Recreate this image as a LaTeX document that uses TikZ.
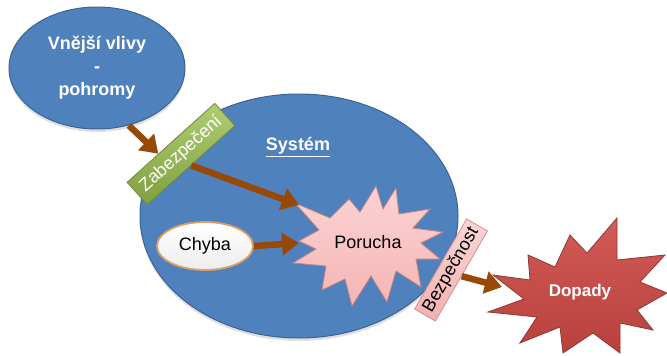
\documentclass[tikz,border=0pt]{standalone}
\usepackage{fontspec}
\setmainfont{Liberation Sans}
\usetikzlibrary{arrows.meta,shapes.geometric,shadows,calc}

\definecolor{sysblue}{HTML}{4F81BD}
\definecolor{sysedge}{HTML}{3A6395}
\definecolor{flow}{HTML}{984807}
\definecolor{guardtop}{HTML}{B0CD72}
\definecolor{guardbot}{HTML}{7FA03F}
\definecolor{guardedge}{HTML}{71893F}
\definecolor{faulttop}{HTML}{FBD3D3}
\definecolor{faultbot}{HTML}{F4B5B5}
\definecolor{faultedge}{HTML}{C7807F}
\definecolor{safetop}{HTML}{FAD6D6}
\definecolor{safebot}{HTML}{F1B0B0}
\definecolor{safeedge}{HTML}{D48F8E}
\definecolor{impacttop}{HTML}{D25A57}
\definecolor{impactbot}{HTML}{B8403D}
\definecolor{impactedge}{HTML}{8C3836}
\definecolor{erroredge}{HTML}{DE9F63}

\tikzset{
  bubble/.style={ellipse, fill=sysblue, draw=sysedge, line width=1pt,
    text=white, align=center, inner sep=0pt,
    font=\bfseries\fontsize{18}{23}\selectfont,
    drop shadow={opacity=0.25, shadow xshift=0pt, shadow yshift=-3pt}},
  tagbox/.style={rectangle, inner sep=0pt, line width=0.8pt,
    font=\fontsize{18}{20}\selectfont},
  spiky/.style={line width=0.8pt, line join=miter},
  plain/.style={font=\fontsize{18}{20}\selectfont, inner sep=0pt},
  flowarrow/.style={draw=flow, line width=6.5pt,
    -{Triangle[length=17pt,width=22pt]}},
}

\begin{document}
\begin{tikzpicture}[x=1pt, y=-1pt]
\useasboundingbox (0,0) rectangle (667,356);

% the system and the outside influences
\node[bubble, minimum width=318, minimum height=244] (system) at (299,216) {};
\node[text=white, font=\bfseries\fontsize{18}{20}\selectfont, inner sep=0pt]
  (syslabel) at (298,147) {\underline{Systém}};
\node[bubble, minimum width=176, minimum height=122] (vlivy) at (97,68)
  {Vnější vlivy\\-\\pohromy};

% the fault, drawn as an irregular burst
\path[spiky, draw=faultedge, top color=faulttop, bottom color=faultbot]
  (295,203) -- (330,218) -- (349,199) -- (360,212) -- (376,186) -- (383,209)
  -- (396,188) -- (399,214) -- (430,209) -- (413,228) -- (443,232)
  -- (421,243) -- (440,259) -- (416,259) -- (421,287) -- (396,271)
  -- (387,302) -- (371,276) -- (352,306) -- (345,279) -- (322,290)
  -- (326,266) -- (293,263) -- (316,249) -- (299,241) -- (319,230) -- cycle;
\node[plain] (porucha) at (368,242) {Porucha};
\coordinate (porTL) at (299,205);
\coordinate (porL) at (299,243);

% the error
\node[ellipse, draw=erroredge, line width=1.8pt, top color=white,
  bottom color=white!93!black, minimum width=96, minimum height=48,
  inner sep=0pt, font=\fontsize{18}{20}\selectfont] (chyba) at (205,246) {Chyba};

% the consequences
\path[spiky, draw=impactedge, top color=impacttop, bottom color=impactbot]
  (493,275) -- (530,280) -- (528,255) -- (555,267) -- (570,235) -- (587,253)
  -- (617,218) -- (617,260) -- (665,255) -- (640,282) -- (667,293)
  -- (637,310) -- (653,330) -- (620,323) -- (620,353) -- (593,333)
  -- (563,353) -- (560,327) -- (520,343) -- (537,317) -- (488,312)
  -- (524,299) -- cycle;
\node[plain, text=white, font=\bfseries\fontsize{17}{20}\selectfont]
  (dopady) at (580,292) {Dopady};
\coordinate (dopL) at (502,287);

% protective barriers
\node[tagbox, draw=guardedge, top color=guardtop, bottom color=guardbot,
  text=white, minimum width=118, minimum height=30, rotate=42]
  (zab) at (181,154) {Zabezpečení};
\node[tagbox, draw=safeedge, top color=safetop, bottom color=safebot,
  minimum width=104, minimum height=24, rotate=60]
  (bez) at (451,270) {Bezpečnost};
\coordinate (zabin) at ($(zab.north)!0.28!(zab.north west)$);

% causal flow
\draw[flowarrow] (vlivy.-61) -- (zabin);
\draw[flowarrow] (zab.south) -- (porTL);
\draw[flowarrow] (chyba.east) -- (porL);
\draw[flowarrow] (bez.south) -- (dopL);
\end{tikzpicture}
\end{document}
